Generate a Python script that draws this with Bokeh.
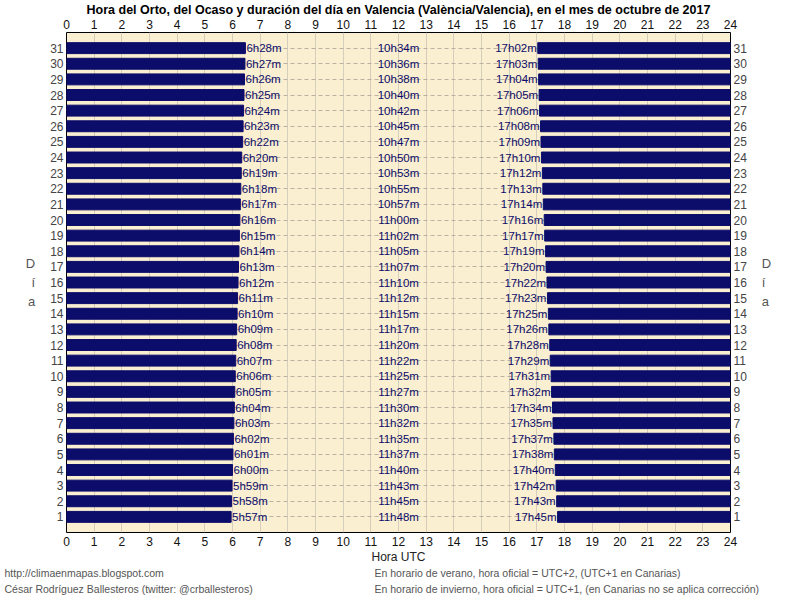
from bokeh.plotting import figure
from bokeh.layouts import column
from bokeh.models import Range1d, LinearAxis, FixedTicker, ColumnDataSource
from bokeh.embed import file_html
from bokeh.resources import INLINE
from bokeh.core.properties import value

# ---- data (October 2017, Valencia) ----
days = list(range(1, 32))
sunrise = ["5h57m", "5h58m", "5h59m", "6h00m", "6h01m", "6h02m", "6h03m", "6h04m",
           "6h05m", "6h06m", "6h07m", "6h08m", "6h09m", "6h10m", "6h11m", "6h12m",
           "6h13m", "6h14m", "6h15m", "6h16m", "6h17m", "6h18m", "6h19m", "6h20m",
           "6h22m", "6h23m", "6h24m", "6h25m", "6h26m", "6h27m", "6h28m"]
sunset = ["17h45m", "17h43m", "17h42m", "17h40m", "17h38m", "17h37m", "17h35m", "17h34m",
          "17h32m", "17h31m", "17h29m", "17h28m", "17h26m", "17h25m", "17h23m", "17h22m",
          "17h20m", "17h19m", "17h17m", "17h16m", "17h14m", "17h13m", "17h12m", "17h10m",
          "17h09m", "17h08m", "17h06m", "17h05m", "17h04m", "17h03m", "17h02m"]
duration = ["11h48m", "11h45m", "11h43m", "11h40m", "11h37m", "11h35m", "11h32m", "11h30m",
            "11h27m", "11h25m", "11h22m", "11h20m", "11h17m", "11h15m", "11h12m", "11h10m",
            "11h07m", "11h05m", "11h02m", "11h00m", "10h57m", "10h55m", "10h53m", "10h50m",
            "10h47m", "10h45m", "10h42m", "10h40m", "10h38m", "10h36m", "10h34m"]
hour_ticks = list(range(0, 25))

title_text = "Hora del Orto, del Ocaso y duración del día en Valencia (València/Valencia), en el mes de octubre de 2017"
xlabel_text = "Hora UTC"
ylabel_text = "D\ní\na"
credits = ["http://climaenmapas.blogspot.com",
           "César Rodríguez Ballesteros (twitter: @crballesteros)"]
notes = ["En horario de verano, hora oficial = UTC+2, (UTC+1 en Canarias)",
         "En horario de invierno, hora oficial = UTC+1, (en Canarias no se aplica corrección)"]


def to_hours(s):
    h, m = s.rstrip("m").split("h")
    return int(h) + int(m) / 60.0


rise_h = [to_hours(s) for s in sunrise]
set_h = [to_hours(s) for s in sunset]

src = ColumnDataSource(dict(day=days, rise=rise_h, sset=set_h,
                            rise_lbl=sunrise, set_lbl=sunset, dur_lbl=duration,
                            mid=[12.0] * len(days), zero=[0.0] * len(days),
                            full=[24.0] * len(days)))

NAVY = "#0c0c6a"
FONT = "Liberation Sans"

p = figure(width=796, height=566, output_backend="svg", toolbar_location=None,
           x_range=Range1d(0, 24), y_range=Range1d(0, 32),
           min_border_left=66, min_border_right=66, min_border_top=32, min_border_bottom=34,
           background_fill_color="#faefd1", border_fill_color="white",
           x_axis_location=None, y_axis_location=None)
p.outline_line_color = "black"
p.outline_line_width = 1

p.title.text = title_text
p.title.align = "center"
p.title.text_font = FONT
p.title.text_font_size = "12.5px"
p.title.text_font_style = "bold"
p.title.text_color = "#000000"
p.title.standoff = 0
p.title.offset = 0

# grids
p.xgrid.ticker = FixedTicker(ticks=hour_ticks)
p.xgrid.grid_line_color = "#d6cebd"
p.xgrid.grid_line_width = 1
p.ygrid.ticker = FixedTicker(ticks=days)
p.ygrid.grid_line_color = "#b9b1a2"
p.ygrid.grid_line_dash = "4 3"

# bars
p.hbar(y="day", left="zero", right="rise", height=0.7, source=src,
       fill_color=NAVY, line_color=NAVY)
p.hbar(y="day", left="sset", right="full", height=0.7, source=src,
       fill_color=NAVY, line_color=NAVY)

# in-plot labels
for xcol, tcol, align, off in (("rise", "rise_lbl", "left", 1),
                               ("mid", "dur_lbl", "center", 0),
                               ("sset", "set_lbl", "right", -1)):
    p.text(x=xcol, y="day", text=tcol, source=src, x_offset=off,
           text_align=align, text_baseline="middle", text_color=NAVY,
           text_font=value(FONT), text_font_size="11.5px")


def style_axis(ax, color, standoff):
    ax.major_tick_line_color = None
    ax.minor_tick_line_color = None
    ax.major_tick_out = 0
    ax.major_tick_in = 0
    ax.axis_line_color = None
    ax.major_label_text_font = FONT
    ax.major_label_text_font_size = "12px"
    ax.major_label_text_color = color
    ax.major_label_standoff = standoff
    ax.axis_label_text_font = FONT
    ax.axis_label_text_font_style = "normal"


for loc in ("below", "above"):
    ax = LinearAxis(ticker=FixedTicker(ticks=hour_ticks))
    style_axis(ax, "#111111", 4)
    if loc == "below":
        ax.axis_label = xlabel_text
        ax.axis_label_text_font_size = "12px"
        ax.axis_label_text_color = "#222222"
        ax.axis_label_standoff = 1
    p.add_layout(ax, loc)
for loc in ("left", "right"):
    ax = LinearAxis(ticker=FixedTicker(ticks=days))
    style_axis(ax, "#444444", 3)
    ax.axis_label = ylabel_text
    ax.axis_label_orientation = "horizontal"
    ax.axis_label_text_font_size = "13px"
    ax.axis_label_text_color = "#555555"
    ax.axis_label_text_line_height = 1.27
    ax.axis_label_standoff = 12
    p.add_layout(ax, loc)

# bottom strip with credits and notes
q = figure(width=796, height=30, output_backend="svg", toolbar_location=None,
           x_range=Range1d(0, 796), y_range=Range1d(30, 0),
           min_border=0, min_border_left=0, min_border_right=0,
           min_border_top=0, min_border_bottom=0,
           x_axis_location=None, y_axis_location=None,
           border_fill_color="white", background_fill_color="white")
if "frame_align" in q.properties():
    q.frame_align = False
if "frame_align" in p.properties():
    p.frame_align = False
q.outline_line_color = None
q.grid.visible = False
foot = ColumnDataSource(dict(x=[4, 4, 374, 374], y=[6, 22, 6, 22],
                             t=credits + notes))
q.text(x="x", y="y", text="t", source=foot, text_align="left", text_baseline="middle",
       text_color="#555555", text_font=value(FONT), text_font_size="10.5px")

layout = column(p, q, spacing=0)
open("out.html", "w").write(file_html(layout, INLINE))
